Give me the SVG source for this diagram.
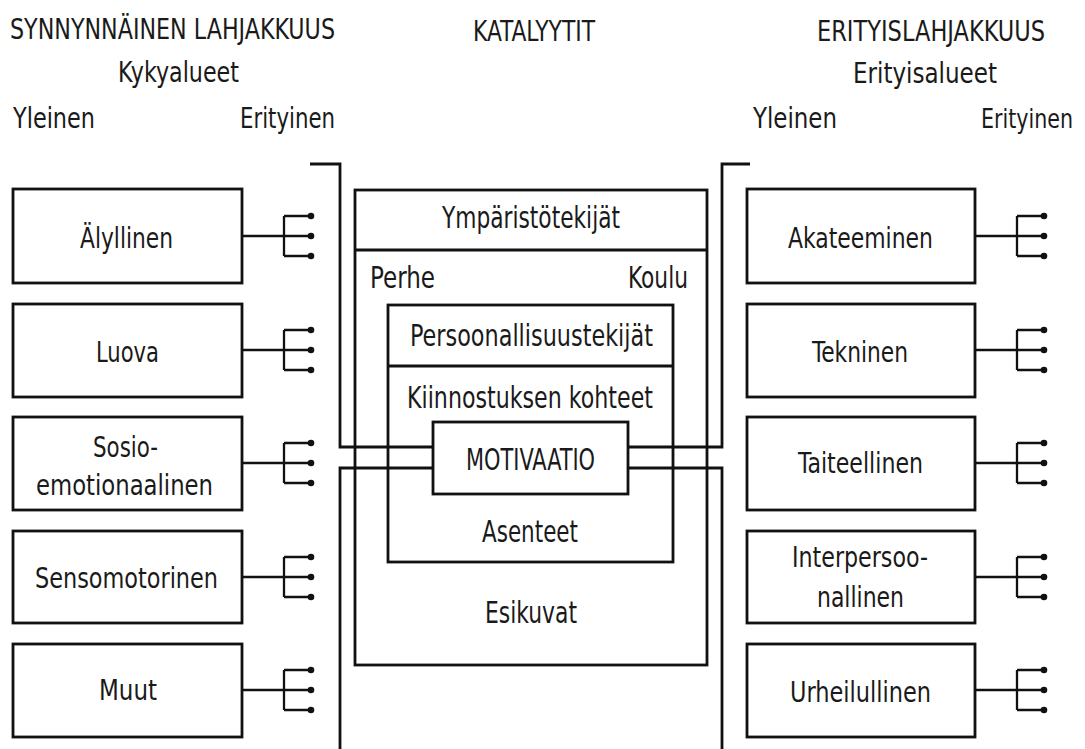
<svg xmlns="http://www.w3.org/2000/svg" width="1085" height="749" viewBox="0 0 1085 749">
<style>
text{font-family:"Liberation Sans Narrow","DejaVu Sans Condensed","Liberation Sans",sans-serif;font-size:28px;fill:#1a1a1a}
.c{font-size:30px}
.box{fill:#fff;stroke:#111;stroke-width:2.8}
.ln{fill:none;stroke:#111;stroke-width:2.8}
.fk{fill:none;stroke:#111;stroke-width:2.3}
.dot{fill:#111}
</style>
<defs>
<g id="forkL"><path class="fk" d="M0 0H42M42 -20V20M42 -20H69M42 0H69M42 20H69"/><circle class="dot" cx="69" cy="-20" r="3.3"/><circle class="dot" cx="69" cy="0" r="3.3"/><circle class="dot" cx="69" cy="20" r="3.3"/></g>
</defs>
<g id="headers">
<text x="10" y="39" textLength="325" lengthAdjust="spacingAndGlyphs">SYNNYNNÄINEN LAHJAKKUUS</text>
<text x="473" y="41" textLength="122" lengthAdjust="spacingAndGlyphs">KATALYYTIT</text>
<text x="817" y="41" textLength="228" lengthAdjust="spacingAndGlyphs">ERITYISLAHJAKKUUS</text>
<text x="118" y="82" textLength="121" lengthAdjust="spacingAndGlyphs">Kykyalueet</text>
<text x="853" y="83" textLength="144" lengthAdjust="spacingAndGlyphs">Erityisalueet</text>
<text x="13" y="128" textLength="82" lengthAdjust="spacingAndGlyphs">Yleinen</text>
<text x="240" y="128" textLength="95" lengthAdjust="spacingAndGlyphs">Erityinen</text>
<text x="753" y="128" textLength="84" lengthAdjust="spacingAndGlyphs">Yleinen</text>
<text x="981" y="128" textLength="92" lengthAdjust="spacingAndGlyphs" style="font-size:26px">Erityinen</text>
</g>
<g id="catalysts">
<rect class="box" x="355" y="190" width="352" height="475"/>
<line class="ln" x1="355" y1="250" x2="707" y2="250"/>
<text class="c" x="442" y="228" textLength="178" lengthAdjust="spacingAndGlyphs">Ympäristötekijät</text>
<text class="c" x="370" y="288" textLength="65" lengthAdjust="spacingAndGlyphs">Perhe</text>
<text class="c" x="628" y="288" textLength="60" lengthAdjust="spacingAndGlyphs">Koulu</text>
<text class="c" x="485" y="623" textLength="92" lengthAdjust="spacingAndGlyphs">Esikuvat</text>
</g>
<g id="personality">
<rect class="box" x="388" y="305" width="285" height="257"/>
<line class="ln" x1="388" y1="366" x2="673" y2="366"/>
<text class="c" x="410" y="346" textLength="243" lengthAdjust="spacingAndGlyphs">Persoonallisuustekijät</text>
<text class="c" x="407" y="408" textLength="246" lengthAdjust="spacingAndGlyphs">Kiinnostuksen kohteet</text>
<text class="c" x="482" y="542" textLength="96" lengthAdjust="spacingAndGlyphs">Asenteet</text>
</g>
<g id="connectors">
<path class="ln" d="M310 164H340V447H433M340 749V468H433"/>
<path class="ln" d="M750 164H722V447H628M722 749V468H628"/>
<use href="#forkL" x="242" y="236"/>
<use href="#forkL" x="242" y="350"/>
<use href="#forkL" x="242" y="463"/>
<use href="#forkL" x="242" y="577"/>
<use href="#forkL" x="242" y="690"/>
<use href="#forkL" x="975" y="236"/>
<use href="#forkL" x="975" y="350"/>
<use href="#forkL" x="975" y="463"/>
<use href="#forkL" x="975" y="577"/>
<use href="#forkL" x="975" y="690"/>
</g>
<g id="motivaatio">
<rect class="box" x="433" y="422" width="195" height="72"/>
<text class="c" x="466" y="470" textLength="129" lengthAdjust="spacingAndGlyphs">MOTIVAATIO</text>
</g>
<g id="alyllinen"><rect class="box" x="13" y="189" width="229" height="94"/><text x="80" y="248" textLength="93" lengthAdjust="spacingAndGlyphs">Älyllinen</text></g>
<g id="luova"><rect class="box" x="13" y="304" width="229" height="93"/><text x="96" y="362" textLength="63" lengthAdjust="spacingAndGlyphs">Luova</text></g>
<g id="sosio"><rect class="box" x="13" y="417" width="229" height="93"/><text x="93" y="457" textLength="65" lengthAdjust="spacingAndGlyphs">Sosio-</text><text x="36" y="495" textLength="177" lengthAdjust="spacingAndGlyphs">emotionaalinen</text></g>
<g id="senso"><rect class="box" x="13" y="531" width="229" height="92"/><text x="35" y="588" textLength="183" lengthAdjust="spacingAndGlyphs">Sensomotorinen</text></g>
<g id="muut"><rect class="box" x="13" y="644" width="229" height="93"/><text x="99" y="700" textLength="58" lengthAdjust="spacingAndGlyphs">Muut</text></g>
<g id="akateeminen"><rect class="box" x="747" y="189" width="228" height="94"/><text x="788" y="248" textLength="145" lengthAdjust="spacingAndGlyphs">Akateeminen</text></g>
<g id="tekninen"><rect class="box" x="747" y="304" width="228" height="93"/><text x="812" y="362" textLength="96" lengthAdjust="spacingAndGlyphs">Tekninen</text></g>
<g id="taiteellinen"><rect class="box" x="747" y="417" width="228" height="93"/><text x="798" y="473" textLength="125" lengthAdjust="spacingAndGlyphs">Taiteellinen</text></g>
<g id="interpersoonallinen"><rect class="box" x="747" y="531" width="228" height="92"/><text x="792" y="567" textLength="136" lengthAdjust="spacingAndGlyphs">Interpersoo-</text><text x="817" y="607" textLength="87" lengthAdjust="spacingAndGlyphs">nallinen</text></g>
<g id="urheilullinen"><rect class="box" x="747" y="644" width="228" height="93"/><text x="790" y="702" textLength="141" lengthAdjust="spacingAndGlyphs">Urheilullinen</text></g>
</svg>
